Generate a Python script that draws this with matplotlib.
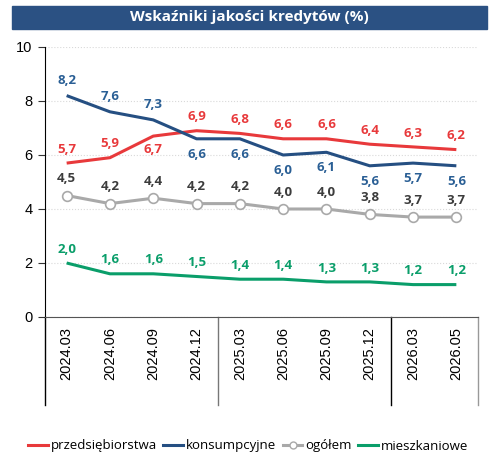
import numpy as np
import matplotlib.pyplot as plt
from matplotlib.patches import Rectangle
from matplotlib.lines import Line2D

periods = ["2024.03", "2024.06", "2024.09", "2024.12", "2025.03", "2025.06",
           "2025.09", "2025.12", "2026.03", "2026.05"]
przeds = [5.7, 5.9, 6.7, 6.9, 6.8, 6.6, 6.6, 6.4, 6.3, 6.2]
konsum = [8.2, 7.6, 7.3, 6.6, 6.6, 6.0, 6.1, 5.6, 5.7, 5.6]
ogolem = [4.5, 4.2, 4.4, 4.2, 4.2, 4.0, 4.0, 3.8, 3.7, 3.7]
mieszk = [2.0, 1.6, 1.6, 1.5, 1.4, 1.4, 1.3, 1.3, 1.2, 1.2]
# label placement: 1 above, -1 below
przeds_pos = [1, 1, -1, 1, 1, 1, 1, 1, 1, 1]
konsum_pos = [1, 1, 1, -1, -1, -1, -1, -1, -1, -1]

RED = "#e8393b"
BLUE = "#254f82"
BLUE_LBL = "#2a5f95"
GRAY = "#a9a9a9"
GRAY_LBL = "#3c3c3c"
GREEN = "#0a9e6a"
LBL_FONT = ["Open Sans", "DejaVu Sans"]

plt.rcParams["font.family"] = ["Liberation Sans", "DejaVu Sans"]

fig = plt.figure(figsize=(4.92, 4.57), dpi=100)
ax = fig.add_axes([45/492, 1-317/457, 433/492, 270/457])
x = np.arange(len(periods))

ax.plot(x, przeds, color=RED, lw=2.2, solid_capstyle="butt", zorder=3)
ax.plot(x, konsum, color=BLUE, lw=2.2, solid_capstyle="butt", zorder=3)
ax.plot(x, ogolem, color=GRAY, lw=2.2, marker="o", ms=7, mfc="white",
        mec=GRAY, mew=1.2, zorder=3)
ax.plot(x, mieszk, color=GREEN, lw=2.2, solid_capstyle="butt", zorder=3)

def fmt(v):
    return f"{v:.1f}".replace(".", ",")

def labels(vals, pos, col, off=10):
    for i, v in enumerate(vals):
        ax.annotate(fmt(v), (x[i], v), xytext=(0, off*pos[i]),
                    textcoords="offset points", ha="center", va="center",
                    color=col, fontsize=9.5, fontweight="bold",
                    family=LBL_FONT, zorder=4)

labels(przeds, przeds_pos, RED)
labels(konsum, konsum_pos, BLUE_LBL, off=11)
labels(ogolem, [1]*10, GRAY_LBL, off=12)
labels(mieszk, [1]*10, GREEN)

ax.set_xlim(-0.5, len(periods)-0.5)
ax.set_ylim(0, 10)
ax.set_yticks(range(0, 11, 2))
ax.yaxis.grid(True, color="#d9d9d9", ls=":", lw=0.8)
ax.set_axisbelow(True)
ax.tick_params(axis="y", labelsize=10.5, length=5, color="#333333", pad=4)
ax.set_xticks(x)
ax.set_xticklabels(periods, rotation=90, fontsize=10.5)
ax.tick_params(axis="x", length=0, pad=7)
for s in ["top", "right"]:
    ax.spines[s].set_visible(False)
ax.spines["left"].set_color("black")
ax.spines["bottom"].set_color("#555555")

depth = -(405-317)/270
for xv, col in [(-0.5, "black"), (3.5, "#777777"), (7.5, "black"), (9.5, "#999999")]:
    ax.add_line(Line2D([xv, xv], [0, depth], color=col, lw=1,
                       transform=ax.get_xaxis_transform(), clip_on=False))

fig.patches.append(Rectangle((12/492, 1-29/457), 475/492, 23/457,
                             transform=fig.transFigure, color="#2b5183"))
fig.text(249/492, 1-17.5/457, "Wskaźniki jakości kredytów (%)", color="white",
         fontsize=11, fontweight="bold", ha="center", va="center", family=LBL_FONT)

handles = [Line2D([], [], color=RED, lw=2.2),
           Line2D([], [], color=BLUE, lw=2.2),
           Line2D([], [], color=GRAY, lw=2.2, marker="o", ms=5, mfc="white", mec=GRAY),
           Line2D([], [], color=GREEN, lw=2.2)]
fig.legend(handles, ["przedsiębiorstwa", "konsumpcyjne", "ogółem", "mieszkaniowe"],
           loc="center", bbox_to_anchor=(248/492, 1-446/457), ncol=4, frameon=False,
           handlelength=1.5, handletextpad=0.2, columnspacing=0.5,
           prop={"family": LBL_FONT, "size": 9.5})

fig.savefig("out.png", dpi=100)
